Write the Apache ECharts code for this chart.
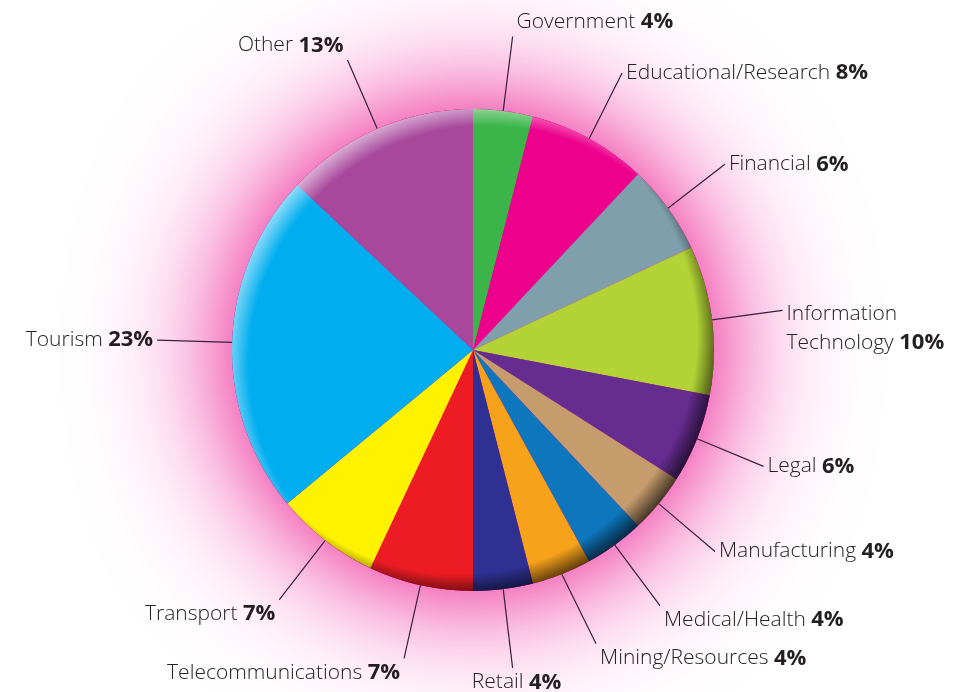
<!DOCTYPE html>
<html>
<head>
<meta charset="utf-8">
<style>
  html, body { margin: 0; padding: 0; background: #fff; }
  #chart { width: 973px; height: 692px; }
</style>
<script src="https://cdn.jsdelivr.net/npm/echarts@6/dist/echarts.min.js"></script>
</head>
<body>
<div id="chart"></div>
<script>
// sectors, clockwise from 12 o'clock
const categories = ['Government', 'Educational/Research', 'Financial', 'Information Technology',
  'Legal', 'Manufacturing', 'Medical/Health', 'Mining/Resources', 'Retail',
  'Telecommunications', 'Transport', 'Tourism', 'Other']
const shares = [4, 8, 6, 10, 6, 4, 4, 4, 4, 7, 7, 23, 13]
const colors = ['#3bb54a', '#ec008c', '#7f9fad', '#b2d235', '#662d91', '#c69c6d', '#0e76bc',
  '#f7a21b', '#2e3192', '#ed1c24', '#fff200', '#00aeef', '#a8479c']

const CENTER = [473, 350]
const R = 241
const LINE_LEN = 75
const FONT = '"Open Sans", "Noto Sans", sans-serif'

const chart = echarts.init(document.getElementById('chart'))

// full disc used only for overlays / glow
function disc(z, style) {
  return {
    type: 'pie',
    z: z,
    silent: true,
    center: CENTER,
    radius: R,
    label: { show: false },
    labelLine: { show: false },
    emphasis: { disabled: true },
    animation: false,
    itemStyle: style,
    data: [{ value: 1 }]
  }
}

chart.setOption({
  backgroundColor: '#fff',
  series: [
    // pink glow behind the pie
    disc(0, { color: '#ec008c', shadowBlur: 150, shadowColor: 'rgba(236,0,140,1)' }),
    disc(1, { color: '#ec008c', shadowBlur: 50, shadowColor: 'rgba(240,90,170,0.5)' }),
    {
      type: 'pie',
      z: 2,
      center: CENTER,
      radius: R,
      startAngle: 90,
      clockwise: true,
      animation: false,
      avoidLabelOverlap: true,
      emphasis: { scale: false },
      itemStyle: { borderWidth: 0 },
      label: {
        show: true,
        position: 'outside',
        distanceToLabelLine: 4,
        fontFamily: FONT,
        formatter: function (p) {
          const name = p.name === 'Information Technology'
            ? '{n|Information}\n{n|Technology }' : '{n|' + p.name + ' }'
          return name + '{p|' + p.value + '%}'
        },
        rich: {
          n: { fontFamily: FONT, fontSize: 21, fontWeight: 300, color: '#222', lineHeight: 29 },
          p: { fontFamily: FONT, fontSize: 22, fontWeight: 'bold', color: '#231f20', lineHeight: 29 }
        }
      },
      labelLine: {
        show: true,
        length: LINE_LEN,
        length2: 0,
        smooth: false,
        lineStyle: { color: '#3b1e3b', width: 1.2 }
      },
      // labels near the top sit above the line end, those near the bottom hang below it
      labelLayout: function (params) {
        const pts = params.labelLinePoints
        if (!pts) return {}
        const end = pts[pts.length - 1]
        const ry = (end[1] - CENTER[1]) / (R + LINE_LEN)
        const rx = (end[0] - CENTER[0]) / (R + LINE_LEN)
        const out = {}
        if (ry < -0.9) out.verticalAlign = 'bottom'
        else if (ry > 0.78) out.verticalAlign = 'top'
        if (ry > 0.75 && Math.abs(rx) < 0.2) out.align = 'center'
        return out
      },
      data: categories.map((c, i) => {
        const item = { name: c, value: shares[i], itemStyle: { color: colors[i] } }
        // two-line label: line points at the first line
        if (c === 'Information Technology') item.label = { padding: [36, 0, 0, 0] }
        return item
      })
    },
    // highlight on the upper-left rim
    disc(3, {
      color: {
        type: 'radial', x: 0.53, y: 0.53, r: 0.55,
        colorStops: [
          { offset: 0, color: 'rgba(255,255,255,0)' },
          { offset: 0.9, color: 'rgba(255,255,255,0)' },
          { offset: 1, color: 'rgba(255,255,255,0.65)' }
        ]
      }
    }),
    // shade on the lower-right rim
    disc(4, {
      color: {
        type: 'radial', x: 0.47, y: 0.47, r: 0.55,
        colorStops: [
          { offset: 0, color: 'rgba(0,0,0,0)' },
          { offset: 0.9, color: 'rgba(0,0,0,0)' },
          { offset: 1, color: 'rgba(0,0,0,0.75)' }
        ]
      }
    })
  ]
})
</script>
</body>
</html>
